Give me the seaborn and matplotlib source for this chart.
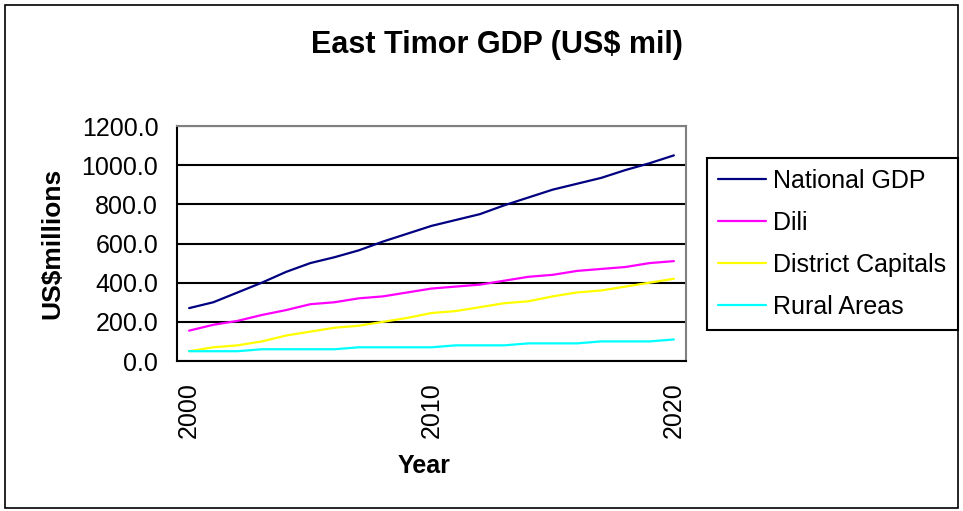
import pandas as pd
import numpy as np
import matplotlib.pyplot as plt
import seaborn as sns
from matplotlib.lines import Line2D

# Data (US$ millions)
years = list(range(2000, 2021))
national_gdp = [270, 300, 350, 400, 455, 500, 530, 565, 610, 650, 690,
                720, 750, 795, 835, 875, 905, 935, 975, 1010, 1050]
dili = [155, 185, 205, 235, 260, 290, 300, 320, 330, 350, 370,
        380, 390, 410, 430, 440, 460, 470, 480, 500, 510]
district_capitals = [50, 70, 80, 100, 130, 150, 170, 180, 200, 220, 245,
                     255, 275, 295, 305, 330, 350, 360, 380, 400, 420]
rural_areas = [50, 50, 50, 60, 60, 60, 60, 70, 70, 70, 70,
               80, 80, 80, 90, 90, 90, 100, 100, 100, 110]

series_names = ["National GDP", "Dili", "District Capitals", "Rural Areas"]
colors = ["#000080", "#FF00FF", "#FFFF00", "#00FFFF"]

df = pd.DataFrame({
    "Year": years * 4,
    "value": national_gdp + dili + district_capitals + rural_areas,
    "series": sum([[n] * len(years) for n in series_names], []),
})

sns.set_style("white")
plt.rcParams['font.family'] = ['Liberation Sans', 'DejaVu Sans']
plt.rcParams.update({"text.color": "black", "axes.labelcolor": "black",
                     "xtick.color": "black", "ytick.color": "black"})

W, H = 963, 511
fig = plt.figure(figsize=(W / 100, H / 100), dpi=100)
ax = fig.add_axes([177 / W, (H - 361) / H, 509 / W, 235 / H])

sns.lineplot(data=df, x="Year", y="value", hue="series", hue_order=series_names,
             palette=colors, linewidth=1.6, ax=ax, legend=False)

ax.set_xlim(1999.5, 2020.5)
ax.set_ylim(0, 1200)
ax.set_yticks(np.arange(0, 1201, 200))
ax.set_yticklabels([f"{v:.1f}" for v in np.arange(0, 1201, 200)], fontsize=18)
ax.set_xticks([2000, 2010, 2020])
ax.set_xticklabels(["2000", "2010", "2020"], rotation=90, fontsize=18)
ax.set_xticks(np.arange(1999.5, 2021, 1), minor=True)
ax.tick_params(axis="x", which="major", length=0, pad=15)
ax.tick_params(axis="x", which="minor", length=6, width=1.5, direction="out", color="black")
ax.tick_params(axis="y", length=6.5, width=1.5, direction="out", color="black", pad=7)

ax.yaxis.grid(True, color="black", linewidth=1.5)
ax.set_axisbelow(True)
for s in ["left", "bottom"]:
    ax.spines[s].set_color("black")
    ax.spines[s].set_linewidth(1.5)
for s in ["top", "right"]:
    ax.spines[s].set_color("#808080")
    ax.spines[s].set_linewidth(1.5)

ax.set_xlabel("")
ax.set_ylabel("")
fig.text(424 / W, 1 - 466 / H, "Year", fontsize=18, fontweight="bold", ha="center", va="center")
fig.text(52 / W, 1 - 243 / H, "US$millions", fontsize=19, fontweight="bold",
         rotation=90, ha="center", va="center")
fig.text(497 / W, 1 - 45 / H, "East Timor GDP (US$ mil)", fontsize=22, fontweight="bold",
         ha="center", va="center")

handles = [Line2D([], [], color=c, linewidth=1.6) for c in colors]
leg = fig.legend(handles, series_names, loc="upper left", bbox_to_anchor=(707 / W, 1 - 158 / H),
                 fontsize=18, frameon=True, fancybox=False, edgecolor="black", framealpha=1,
                 handlelength=1.9, labelspacing=0.72, borderpad=0.45, borderaxespad=0,
                 handletextpad=0.3)
leg.get_frame().set_linewidth(1.5)

# outer chart border
fig.patches.append(plt.Rectangle((5 / W, 3 / H), 953 / W, 503 / H, transform=fig.transFigure,
                                 fill=False, edgecolor="black", linewidth=1.2))

fig.savefig("out.png", dpi=100)
